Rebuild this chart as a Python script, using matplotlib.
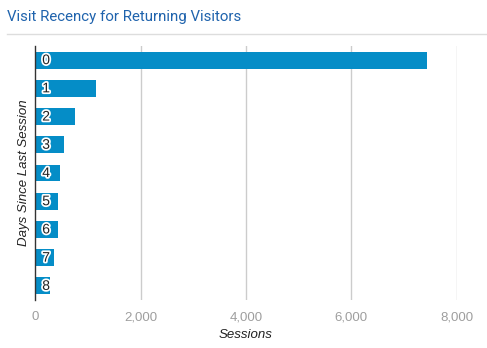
import matplotlib
matplotlib.use("Agg")
import matplotlib.pyplot as plt
import matplotlib.patheffects as pe
from matplotlib.lines import Line2D
from matplotlib.ticker import FuncFormatter

# Sessions by number of days since the previous session
days = ["0", "1", "2", "3", "4", "5", "6", "7", "8"]
sessions = [7440, 1160, 760, 545, 470, 440, 440, 360, 285]
x_ticks = [0, 2000, 4000, 6000, 8000]

BAR_BLUE = "#058dc7"
plt.rcParams["font.family"] = ["Liberation Sans", "DejaVu Sans"]

fig = plt.figure(figsize=(4.87, 3.48), dpi=100)
ax = fig.add_axes([35.3 / 487, 1 - 300 / 348, 421.4 / 487, 254 / 348])

ypos = list(range(len(days)))
ax.barh(ypos, sessions, height=0.6, color=BAR_BLUE, zorder=2)
ax.set_ylim(len(days) - 0.5, -0.5)
ax.set_xlim(0, 8000)

# day labels sit inside the bars, dark text with a white halo
for y, d in zip(ypos, days):
    ax.annotate(d, (0, y), xytext=(5, 0), textcoords="offset points",
                ha="left", va="center", fontsize=10, color="#222222",
                path_effects=[pe.withStroke(linewidth=2.5, foreground="white")],
                zorder=3)

ax.set_xticks(x_ticks)
ax.xaxis.set_major_formatter(FuncFormatter(lambda v, _: f"{int(v):,}"))
ax.set_yticks([])
ax.tick_params(axis="x", length=0, pad=8, labelsize=9.5, labelcolor="#9e9e9e")
ax.grid(axis="x", color="#cccccc", lw=1, zorder=0)
ax.xaxis.get_gridlines()[0].set_visible(False)
for side in ["top", "right", "bottom"]:
    ax.spines[side].set_visible(False)
ax.spines["left"].set_color("#333333")
ax.spines["left"].set_linewidth(1)
ax.spines["left"].set_zorder(4)

ax.set_xlabel("Sessions", fontsize=9.5, style="italic", color="#222222", labelpad=4)
ax.set_ylabel("Days Since Last Session", fontsize=9.5, style="italic",
              color="#222222", labelpad=4)

fig.text(7 / 487, 1 - 17 / 348, "Visit Recency for Returning Visitors",
         fontsize=10.8, color="#1f63ad", ha="left", va="center",
         family=["Roboto", "DejaVu Sans"])
fig.add_artist(Line2D([7 / 487, 1], [1 - 34 / 348] * 2, color="#dddddd", lw=1,
                      transform=fig.transFigure))

fig.savefig("out.png", dpi=100, facecolor="white")
